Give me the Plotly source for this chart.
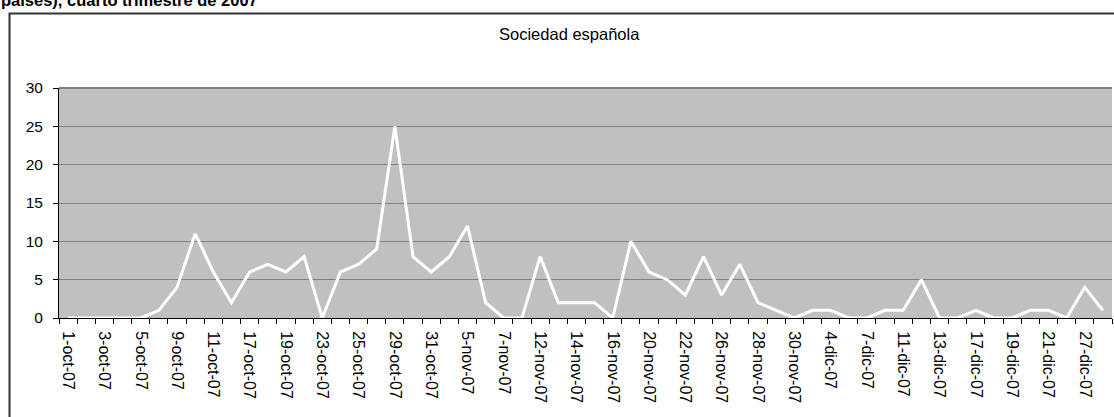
import plotly.graph_objects as go

# ---- data ----
dates = [
    "1-oct-07", "2-oct-07", "3-oct-07", "4-oct-07", "5-oct-07", "8-oct-07",
    "9-oct-07", "10-oct-07", "11-oct-07", "16-oct-07", "17-oct-07", "18-oct-07",
    "19-oct-07", "22-oct-07", "23-oct-07", "24-oct-07", "25-oct-07", "26-oct-07",
    "29-oct-07", "30-oct-07", "31-oct-07", "2-nov-07", "5-nov-07", "6-nov-07",
    "7-nov-07", "9-nov-07", "12-nov-07", "13-nov-07", "14-nov-07", "15-nov-07",
    "16-nov-07", "19-nov-07", "20-nov-07", "21-nov-07", "22-nov-07", "23-nov-07",
    "26-nov-07", "27-nov-07", "28-nov-07", "29-nov-07", "30-nov-07", "3-dic-07",
    "4-dic-07", "5-dic-07", "7-dic-07", "10-dic-07", "11-dic-07", "12-dic-07",
    "13-dic-07", "14-dic-07", "17-dic-07", "18-dic-07", "19-dic-07", "20-dic-07",
    "21-dic-07", "26-dic-07", "27-dic-07", "28-dic-07",
]
values = [
    0, 0, 0, 0, 0, 1, 4, 11, 6, 2, 6, 7,
    6, 8, 0, 6, 7, 9, 25, 8, 6, 8, 12, 2,
    0, 0, 8, 2, 2, 2, 0, 10, 6, 5, 3, 8,
    3, 7, 2, 1, 0, 1, 1, 0, 0, 1, 1, 5,
    0, 0, 1, 0, 0, 1, 1, 0, 4, 1,
]
y_ticks = [0, 5, 10, 15, 20, 25, 30]
title_text = "países), cuarto trimestre de 2007"
subtitle_text = "Sociedad española"

FONT = "Liberation Sans, Arial, sans-serif"

idx = list(range(len(dates)))
label_idx = idx[::2]
label_txt = [dates[i] for i in label_idx]

fig = go.Figure()
fig.add_trace(go.Scatter(
    x=idx, y=values, mode="lines",
    line=dict(color="white", width=3),
    text=dates, hovertemplate="%{text}: %{y}<extra></extra>",
    showlegend=False,
))

W, H = 1114, 417
L, R, T, B = 59, 2, 88, 99
pw = W - L - R
ph = H - T - B

def px2paper_x(px):
    return (px - L) / pw

def px2paper_y(py):
    return 1 + (T - py) / ph

fig.update_layout(
    width=W, height=H,
    margin=dict(l=L, r=R, t=T, b=B),
    paper_bgcolor="white",
    plot_bgcolor="#C0C0C0",
    font=dict(family=FONT, size=16, color="black"),
    xaxis=dict(
        range=[-0.5, len(dates) - 0.5],
        tickmode="array", tickvals=label_idx, ticktext=label_txt,
        tickangle=90, ticks="", showgrid=False, zeroline=False,
        showline=True, linecolor="black", linewidth=1,
        layer="below traces",
        ticklabelstandoff=9,
        minor=dict(ticks="outside", ticklen=5, tickcolor="black",
                   tick0=0.5, dtick=1, showgrid=False),
        tickfont=dict(family=FONT, size=16, color="black"),
        fixedrange=True,
    ),
    yaxis=dict(
        range=[0, 30], tickmode="array", tickvals=y_ticks,
        ticks="outside", ticklen=5, tickcolor="black",
        showline=True, linecolor="black", linewidth=1,
        showgrid=True, gridcolor="#808080", gridwidth=1,
        zeroline=False, layer="below traces",
        ticklabelstandoff=7,
        tickfont=dict(family=FONT, size=15.5, color="black"),
        fixedrange=True,
    ),
    shapes=[
        # chart-area border (extends beyond visible region)
        dict(type="rect", xref="paper", yref="paper",
             x0=px2paper_x(9.5), x1=px2paper_x(W + 20),
             y0=px2paper_y(H + 20), y1=px2paper_y(13.5),
             line=dict(color="#333333", width=2), fillcolor="rgba(0,0,0,0)",
             layer="below"),
        # plot-area top border
        dict(type="line", xref="paper", yref="paper",
             x0=0, x1=1, y0=1, y1=1,
             line=dict(color="#808080", width=2)),
    ],
    annotations=[
        dict(text="<b>" + title_text + "</b>", xref="paper", yref="paper",
             x=px2paper_x(-1), y=px2paper_y(0.5), xanchor="left", yanchor="middle",
             showarrow=False, font=dict(family=FONT, size=16.5, color="black")),
        dict(text=subtitle_text, xref="paper", yref="paper",
             x=px2paper_x(569), y=px2paper_y(34), xanchor="center", yanchor="middle",
             showarrow=False, font=dict(family=FONT, size=16.5, color="black")),
    ],
)

fig.write_html("out.html",
               config={"displayModeBar": False},
               post_script="document.body.style.margin='0';document.body.style.overflow='hidden';")
